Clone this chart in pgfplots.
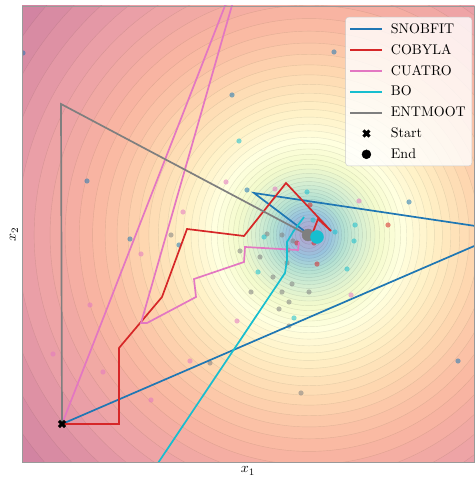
\documentclass[border=0pt]{standalone}
\usepackage{graphicx}
\usepackage{pgfplots}
\pgfplotsset{compat=1.18}
\usepackage{pgfplotstable}

\definecolor{cblue}{HTML}{1F77B4}
\definecolor{cred}{HTML}{D62728}
\definecolor{cpink}{HTML}{E377C2}
\definecolor{ccyan}{HTML}{17BECF}
\definecolor{cgray}{HTML}{7F7F7F}
\newcommand{\lf}[1]{\scalebox{1.4}{#1}}

% contour bands of the background field: centre, band index, outer radius (pt)
\pgfplotstableread{
x y k r
309 244 45 600
309 244 44 348.67
309 244 43 328.56
309 244 42 309.59
309 244 41 291.70
309 244 40 274.84
309 244 39 258.93
309 244 38 243.92
309 244 37 229.77
309 244 36 216.42
309 244 35 203.82
309 244 34 191.94
309 244 33 180.72
309 244 32 170.13
309 244 31 160.14
309 244 30 150.71
309 244 29 141.80
309 244 28 133.38
309 244 27 125.43
309 244 26 117.92
309 244 25 110.82
309 244 24 104.10
309 244 23 97.75
309 244 22 91.73
309 244 21 86.03
309 244 20 80.63
309 244 19 75.51
309 244 18 70.65
309 244 17 66.03
309 244 16 61.63
309 244 15 57.45
309 244 14 53.45
309 244 13 49.63
309 244 12 45.98
309 244 11 42.46
309 244 10 39.07
309 244 9 35.80
309 244 8 32.61
309 244 7 29.49
309 244 6 26.41
309 244 5 23.33
309 244 4 20.21
309 244 3 16.96
309 244 2 13.42
309 244 1 9.21
}\levels

\pgfplotstableread{
x y
23 426
232 384
334 427
87 298
130 240
409 277
458 118
247 289
179 234
}\dotsblue
\pgfplotstableread{
x y
171 244
240 228
287 216
273 202
292 195
251 187
282 187
309 187
289 177
279 170
289 153
210 116
301 86
282 244
267 245
293 238
260 222
288 229
}\dotsgray
\pgfplotstableread{
x y
239 338
258 207
294 161
307 287
355 254
335 247
313 259
264 242
354 238
347 210
}\dotscyan
\pgfplotstableread{
x y
226 297
183 267
141 225
237 158
275 290
359 278
90 174
53 125
103 107
151 79
351 184
190 118
}\dotspink
\pgfplotstableread{
x y
310 274
297 236
314 236
317 215
388 254
}\dotsred

\begin{document}
\begin{tikzpicture}
\useasboundingbox (-22pt,-17pt) rectangle (452pt,462pt);
\begin{axis}[
  at={(0pt,0pt)}, anchor=south west,
  x=1pt, y=1pt,
  xmin=22, xmax=474, ymin=17, ymax=473,
  axis on top,
  xtick=\empty, ytick=\empty,
  axis line style={draw=black!40, line width=0.8pt},
  clip marker paths=true,
  colormap={spec}{rgb255=(175,167,209) rgb255=(153,196,222) rgb255=(179,225,210)
    rgb255=(213,238,210) rgb255=(243,250,204) rgb255=(255,255,223)
    rgb255=(255,240,197) rgb255=(254,215,176) rgb255=(250,182,161)
    rgb255=(234,159,167) rgb255=(207,128,161)},
  point meta min=0.5, point meta max=45.5,
  xlabel={\lf{$x_1$}}, ylabel={\lf{$x_2$}},
  xlabel style={at={(axis description cs:0.5,-0.0197)}, anchor=center},
  ylabel style={at={(axis description cs:-0.0177,0.5)}, anchor=center},
  legend cell align=left,
  legend style={at={(rel axis cs:1,1)}, anchor=north east, xshift=-2pt, yshift=-11pt,
    fill=white, fill opacity=0.8, text opacity=1, draw=black!20, draw opacity=1,
    rounded corners=3pt, row sep=5.5pt, inner xsep=4pt, inner ysep=4pt},
  legend image code/.code={\draw[mark repeat=2,mark phase=2,fill opacity=1,#1] plot coordinates {(0pt,0pt) (16pt,0pt) (32pt,0pt)}; \path (37pt,0pt);},
]
% background filled contours
\addplot[scatter, only marks, mark=*, forget plot,
  point meta=\thisrow{k},
  scatter/use mapped color={draw=mapped color!90!black, fill=mapped color},
  mark options={line width=0.4pt},
  visualization depends on={\thisrow{r} \as \rr},
  scatter/@pre marker code/.append style={/tikz/mark size=\rr pt}]
  table[x=x, y=y] {\levels};

% sampled points
\addplot[only marks, mark=*, mark size=2.6pt, forget plot, mark options={draw opacity=0, fill=cblue, fill opacity=0.55}] table {\dotsblue};
\addplot[only marks, mark=*, mark size=2.6pt, forget plot, mark options={draw opacity=0, fill=cgray, fill opacity=0.55}] table {\dotsgray};
\addplot[only marks, mark=*, mark size=2.6pt, forget plot, mark options={draw opacity=0, fill=ccyan, fill opacity=0.55}] table {\dotscyan};
\addplot[only marks, mark=*, mark size=2.6pt, forget plot, mark options={draw opacity=0, fill=cpink, fill opacity=0.55}] table {\dotspink};
\addplot[only marks, mark=*, mark size=2.6pt, forget plot, mark options={draw opacity=0, fill=cred, fill opacity=0.55}] table {\dotsred};

% optimiser paths
\addplot[cblue, line width=1.7pt, mark=none] coordinates {(62,55) (509,248) (254,286) (307,246)};
\addlegendentry{\lf{SNOBFIT}}
\addplot[cred, line width=1.7pt, mark=none] coordinates {(62,55) (119,55) (119,131) (162,182) (187,250) (244,243) (286,296) (331,248) (318,260) (313,247) (309,243)};
\addlegendentry{\lf{COBYLA}}
\addplot[cpink, line width=1.7pt, mark=none] coordinates {(62,55) (251,540) (141,156) (147,156) (196,182) (194,200) (244,217) (245,232) (298,229) (299,237)};
\addlegendentry{\lf{CUATRO}}
\addplot[ccyan, line width=1.7pt, mark=none] coordinates {(140,-11) (285,206) (287,219) (287,237) (293,247) (304,262)};
\addlegendentry{\lf{BO}}
\addplot[cgray, line width=1.7pt, mark=none] coordinates {(62,55) (61,375) (308,244)};
\addlegendentry{\lf{ENTMOOT}}

% end markers
\addplot[only marks, mark=*, mark size=6pt, forget plot, mark options={draw=cgray, fill=cgray}] coordinates {(308,244)};
\addplot[only marks, mark=*, mark size=6.5pt, forget plot, mark options={draw=ccyan, fill=ccyan}] coordinates {(317,242)};

% start marker
\addplot[only marks, mark=x, mark size=4.3pt, line width=3pt, black] coordinates {(62,55)};
\addlegendentry{\lf{Start}}
\addlegendimage{only marks, mark=*, mark size=4.5pt, black, mark options={fill=black, fill opacity=1}}
\addlegendentry{\lf{End}}
\end{axis}
\end{tikzpicture}
\end{document}
